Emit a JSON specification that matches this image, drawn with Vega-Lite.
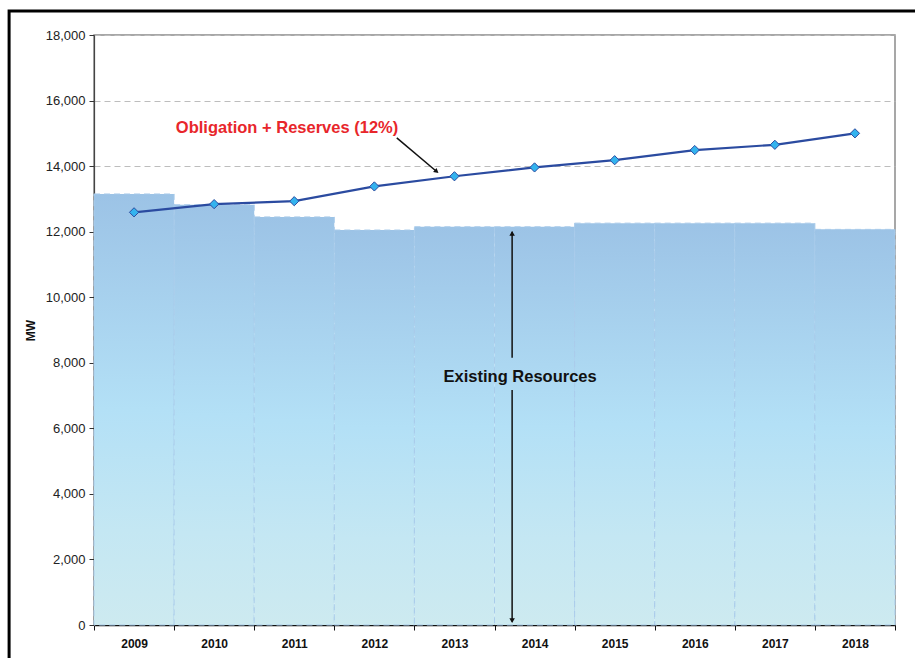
{
  "$schema": "https://vega.github.io/schema/vega-lite/v6.json",
  "autosize": {"type": "none"},
  "width": 801,
  "height": 590,
  "padding": {"left": 94, "top": 35, "right": 20, "bottom": 33},
  "background": "white",
  "config": {
    "view": {"stroke": "#8a8a8a", "strokeWidth": 1.5},
    "font": "Liberation Sans"
  },
  "datasets": {
    "main": [
      {"year": "2009", "existing": 13150, "obligation": 12590},
      {"year": "2010", "existing": 12820, "obligation": 12840},
      {"year": "2011", "existing": 12450, "obligation": 12930},
      {"year": "2012", "existing": 12050, "obligation": 13380},
      {"year": "2013", "existing": 12150, "obligation": 13690},
      {"year": "2014", "existing": 12150, "obligation": 13960},
      {"year": "2015", "existing": 12260, "obligation": 14180},
      {"year": "2016", "existing": 12260, "obligation": 14490},
      {"year": "2017", "existing": 12260, "obligation": 14650},
      {"year": "2018", "existing": 12070, "obligation": 15000}
    ]
  },
  "layer": [
    {
      "data": {"name": "main"},
      "layer": [
        {
          "mark": {
            "type": "bar",
            "fill": {
              "gradient": "linear",
              "x1": 0, "y1": 0, "x2": 0, "y2": 1,
              "stops": [
                {"offset": 0, "color": "#9cc3e6"},
                {"offset": 0.5, "color": "#b3e0f6"},
                {"offset": 0.78, "color": "#c4e7f3"},
                {"offset": 1, "color": "#cdeaf0"}
              ]
            },
            "stroke": "#a9cbea",
            "strokeWidth": 1,
            "strokeDash": [6, 4]
          },
          "encoding": {
            "x": {
              "field": "year", "type": "ordinal",
              "scale": {"paddingInner": 0, "paddingOuter": 0},
              "axis": {
                "title": null,
                "labelAngle": 0,
                "labelFont": "Liberation Sans",
                "labelFontSize": 12,
                "labelFontWeight": "bold",
                "labelColor": "#111",
                "labelPadding": 8,
                "tickBand": "extent",
                "tickSize": 5,
                "tickColor": "#111",
                "domainColor": "#111",
                "domainWidth": 1.5,
                "grid": false
              }
            },
            "y": {
              "field": "existing", "type": "quantitative",
              "scale": {"domain": [0, 18000], "nice": false},
              "axis": {
                "title": "MW",
                "titleFont": "Liberation Sans",
                "titleFontSize": 12,
                "titleFontWeight": "bold",
                "titleColor": "#111",
                "titlePadding": 8,
                "values": [0, 2000, 4000, 6000, 8000, 10000, 12000, 14000, 16000, 18000],
                "format": ",d",
                "labelFont": "Liberation Sans",
                "labelFontSize": 13,
                "labelColor": "#222",
                "labelPadding": 4,
                "tickSize": 5,
                "tickColor": "#333",
                "domainColor": "#444",
                "domainWidth": 1.2,
                "grid": true,
                "gridColor": "#bdbdbd",
                "gridDash": [6, 4],
                "gridWidth": 1
              }
            }
          }
        },
        {
          "mark": {"type": "line", "color": "#2b4ba0", "strokeWidth": 2.2},
          "encoding": {
            "x": {"field": "year", "type": "ordinal"},
            "y": {"field": "obligation", "type": "quantitative"}
          }
        },
        {
          "mark": {"type": "point", "shape": "diamond", "filled": true, "fill": "#33b3ee", "stroke": "#2b4ba0", "strokeWidth": 1, "size": 85, "opacity": 1},
          "encoding": {
            "x": {"field": "year", "type": "ordinal"},
            "y": {"field": "obligation", "type": "quantitative"}
          }
        }
      ]
    },
    {
      "data": {
        "values": [
          {"kind": "frame", "x": -1.06, "x2": 10.4, "y": 18730, "y2": -1500},
          {"kind": "arrow1", "x": 3.78, "x2": 4.27, "y": 14860, "y2": 13850},
          {"kind": "arrow2", "x": 5.22, "x2": 5.22, "y": 12000, "y2": 8150},
          {"kind": "arrow3", "x": 5.22, "x2": 5.22, "y": 7170, "y2": 100}
        ]
      },
      "layer": [
        {
          "transform": [{"filter": "datum.kind === 'frame'"}],
          "mark": {"type": "rect", "fill": null, "stroke": "#000", "strokeWidth": 3, "clip": false},
          "encoding": {
            "x": {"field": "x", "type": "quantitative", "scale": {"domain": [0, 10], "nice": false, "zero": false}, "axis": null},
            "x2": {"field": "x2"},
            "y": {"field": "y", "type": "quantitative"},
            "y2": {"field": "y2"}
          }
        },
        {
          "transform": [{"filter": "datum.kind !== 'frame'"}],
          "mark": {"type": "rule", "color": "#111", "strokeWidth": 1.5},
          "encoding": {
            "x": {"field": "x", "type": "quantitative", "scale": {"domain": [0, 10], "nice": false, "zero": false}, "axis": null},
            "x2": {"field": "x2"},
            "y": {"field": "y", "type": "quantitative"},
            "y2": {"field": "y2"}
          }
        }
      ]
    },
    {
      "data": {
        "values": [
          {"x": 4.27, "y": 13850, "shape": "triangle", "angle": 130},
          {"x": 5.22, "y": 11950, "shape": "triangle-up", "angle": 0},
          {"x": 5.22, "y": 130, "shape": "triangle-down", "angle": 0}
        ]
      },
      "mark": {"type": "point", "filled": true, "color": "#111", "size": 30, "opacity": 1},
      "encoding": {
        "x": {"field": "x", "type": "quantitative", "scale": {"domain": [0, 10], "nice": false, "zero": false}, "axis": null},
        "y": {"field": "y", "type": "quantitative"},
        "shape": {"field": "shape", "type": "nominal", "scale": null, "legend": null},
        "angle": {"field": "angle", "type": "quantitative", "scale": null}
      }
    },
    {
      "data": {
        "values": [
          {"x": 2.41, "y": 15160, "label": "Obligation + Reserves (12%)", "c": "red"},
          {"x": 5.32, "y": 7580, "label": "Existing Resources", "c": "black"}
        ]
      },
      "mark": {"type": "text", "font": "Liberation Sans", "fontWeight": "bold", "fontSize": 16.5, "align": "center", "baseline": "middle"},
      "encoding": {
        "x": {"field": "x", "type": "quantitative", "scale": {"domain": [0, 10], "nice": false, "zero": false}, "axis": null},
        "y": {"field": "y", "type": "quantitative"},
        "text": {"field": "label"},
        "color": {"field": "c", "type": "nominal", "scale": {"domain": ["red", "black"], "range": ["#e8262b", "#111111"]}, "legend": null}
      }
    }
  ],
  "resolve": {"scale": {"x": "independent"}}
}
